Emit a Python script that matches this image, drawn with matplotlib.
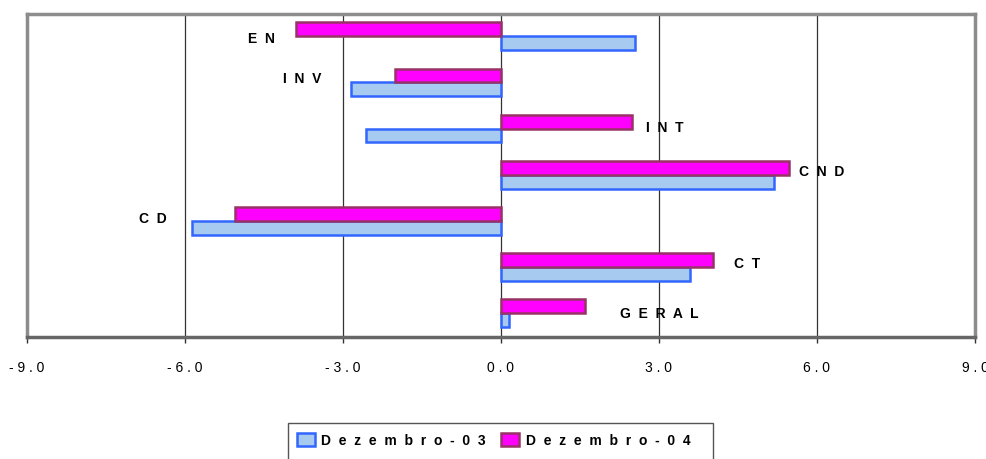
import matplotlib
matplotlib.use("Agg")
import matplotlib.pyplot as plt
from matplotlib.patches import Rectangle

# -------------------- data --------------------
categories = ["EN", "INV", "INT", "CND", "CD", "CT", "GERAL"]
dez03 = [2.55, -2.85, -2.57, 5.18, -5.87, 3.59, 0.15]
dez04 = [-3.89, -2.01, 2.49, 5.46, -5.05, 4.02, 1.59]
series_names = ["Dezembro-03", "Dezembro-04"]
xticks = [-9.0, -6.0, -3.0, 0.0, 3.0, 6.0, 9.0]

# label placement: side of the bars, pixels from the bar end, pixels up
label_side = ["left", "left", "right", "right", "left", "right", "right"]
label_gap = [21, 30, 14, 10, 25, 21, 35]
label_dy = [-1, 5, 2, 4, 3, 4, 1]

plt.rcParams['font.family'] = ['Liberation Sans', 'DejaVu Sans']


def spaced(s, n=1):
    return (" " * n).join(s)


fig = plt.figure(figsize=(9.87, 4.60), dpi=100)
W, H = 987, 460
ax = fig.add_axes([27 / W, (H - 337.7) / H, 948 / W, 323 / H])

y = list(range(len(categories)))
bh = 0.30
blue_face, blue_edge = "#A6CAF0", "#3366FF"
pink_face, pink_edge = "#FF00FF", "#993366"

ax.barh([i + 0.14 for i in y], dez03, height=bh, color=blue_face,
        edgecolor=blue_edge, linewidth=1.8, zorder=3)
ax.barh([i - 0.16 for i in y], dez04, height=bh, color=pink_face,
        edgecolor=pink_edge, linewidth=1.8, zorder=4)

ax.set_xlim(-9, 9)
ax.set_ylim(len(categories) - 0.5, -0.5)
ax.set_yticks([])
ax.set_xticks(xticks)
ax.set_xticklabels([spaced(f"{v:.1f}") for v in xticks], fontsize=10)
ax.tick_params(axis="x", direction="out", length=4, width=1, color="#333333", pad=13)

for v in xticks[1:-1]:
    ax.axvline(v, color="#333333", linewidth=0.9, zorder=1)

for s in ax.spines.values():
    s.set_color("#8c8c8c")
    s.set_linewidth(2.5)
ax.spines["bottom"].set_color("#666666")

# category labels next to the bars
for i, name in enumerate(categories):
    if label_side[i] == "left":
        x0 = min(dez03[i], dez04[i], 0)
        dx, ha = -label_gap[i] * 0.72, "right"
    else:
        x0 = max(dez03[i], dez04[i], 0)
        dx, ha = label_gap[i] * 0.72, "left"
    ax.annotate(spaced(name, 2), xy=(x0, i), xytext=(dx, label_dy[i] * 0.72),
                textcoords="offset points", ha=ha, va="center",
                fontsize=10, fontweight="bold", zorder=5)

# legend
handles = [Rectangle((0, 0), 1, 1, facecolor=blue_face, edgecolor=blue_edge, linewidth=1.8),
           Rectangle((0, 0), 1, 1, facecolor=pink_face, edgecolor=pink_edge, linewidth=1.8)]
fig.legend(handles, [spaced(n, 2) for n in series_names], loc="center left",
           bbox_to_anchor=(297 / W, (H - 441) / H), ncol=2, frameon=False,
           borderpad=0, borderaxespad=0, handlelength=1.3, handleheight=1.05,
           handletextpad=0.45, columnspacing=1.1, prop={"weight": "bold", "size": 10})
# legend box, bottom edge runs off the canvas like in the original
fig.patches.append(Rectangle((288 / W, -0.05), (713 - 288) / W, (H - 424) / H + 0.05,
                             transform=fig.transFigure, fill=False,
                             edgecolor="#555555", linewidth=1.0))

fig.savefig("out.png", dpi=100)
